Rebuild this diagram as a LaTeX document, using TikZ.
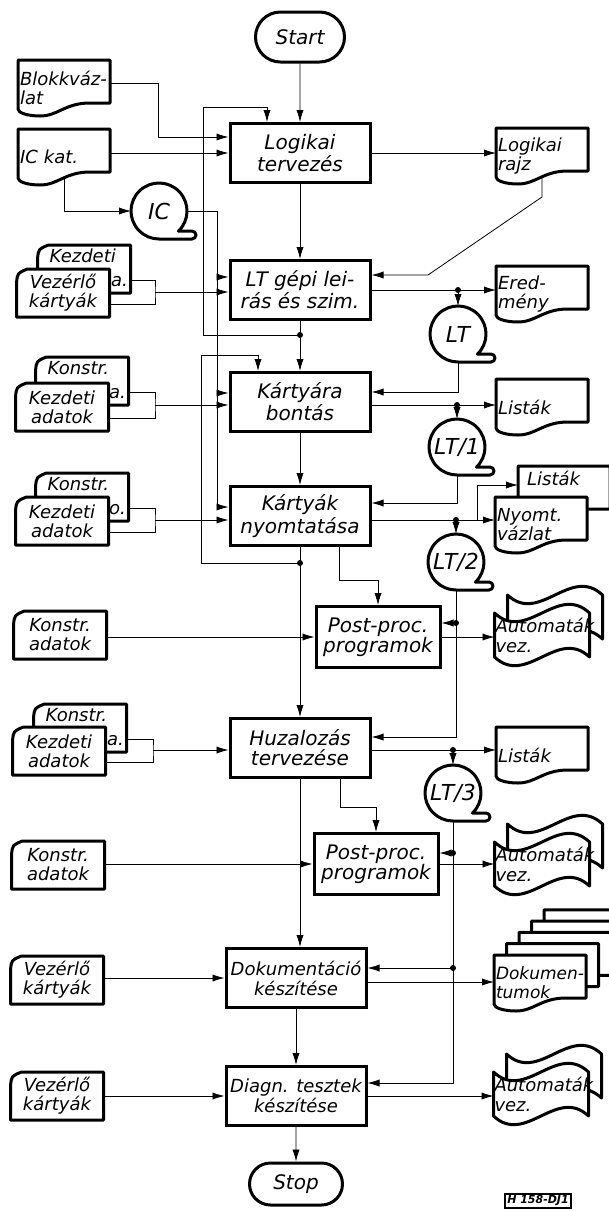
\documentclass[tikz,border=0pt]{standalone}
\usepackage{fontspec}
\setmainfont{DejaVu Sans}
\usetikzlibrary{arrows.meta, calc, shapes.misc}
\pgfdeclarelayer{wires}
\pgfdeclarelayer{outlines}
\pgfsetlayers{wires,outlines,main}

\begin{document}
\begin{tikzpicture}[x=0.5pt, y=-0.5pt, line width=1.1pt,
    font=\itshape\fontsize{10}{10}\selectfont,
    procbox/.style={draw, fill=white, line width=1.5pt, minimum width=70pt, minimum height=29.5pt, align=center, inner sep=1pt},
    postbox/.style={minimum width=62pt, minimum height=30.5pt},
    termbox/.style={rounded rectangle, draw, fill=white, line width=1.5pt, inner sep=1pt},
    docbox/.style={minimum width=46pt, minimum height=28pt, text width=44pt, align=left, inner sep=1pt, outer sep=0pt, font=\itshape\fontsize{9}{9.5}\selectfont},
    cardbox/.style={minimum width=46.5pt, minimum height=24pt, align=center, inner sep=1pt, outer sep=0pt, font=\itshape\fontsize{9}{9.5}\selectfont},
    cardtext/.style={inner sep=1pt, font=\itshape\fontsize{9}{9.5}\selectfont},
    flagbox/.style={minimum width=47.5pt, minimum height=22pt, text width=46.5pt, align=left, inner sep=0.5pt, outer sep=0pt, font=\itshape\fontsize{9}{10}\selectfont},
    tapenode/.style={circle, minimum size=28pt, inner sep=0pt, outer sep=0pt, font=\itshape\fontsize{11}{11}\selectfont},
    outl/.style={line width=1.5pt, fill=white, line join=round},
    arr/.style={-{Latex[length=6pt,width=3.6pt]}},
    jdot/.style={circle, fill, inner sep=0pt, minimum size=3pt}]

    \useasboundingbox (0,0) rectangle (609,1211);

    % Main column
    \node[termbox, minimum width=46.5pt, minimum height=25pt] (start) at (300,37) {Start};
    \node[procbox] (logik) at (300,153) {Logikai\\tervezés};
    \node[procbox] (ltgep) at (300,290) {LT gépi lei-\\rás és szim.};
    \node[procbox] (kbont) at (300,402) {Kártyára\\bontás};
    \node[procbox] (knyom) at (300,516) {Kártyák\\nyomtatása};
    \node[procbox, postbox] (post1) at (378,637) {Post-proc.\\programok};
    \node[procbox] (huzal) at (300,748) {Huzalozás\\tervezése};
    \node[procbox, postbox] (post2) at (376,864) {Post-proc.\\programok};
    \node[procbox, font=\itshape\fontsize{9}{10}\selectfont] (dokum) at (296,978) {Dokumentáció\\készítése};
    \node[procbox, font=\itshape\fontsize{9}{10}\selectfont] (diagn) at (296,1096) {Diagn. tesztek\\készítése};
    \node[termbox, minimum width=48.5pt, minimum height=21pt] (stop) at (296,1184) {Stop};

    % Tapes
    \node[tapenode] (ic) at (159,211) {IC};
    \node[tapenode] (lt) at (458,334) {LT};
    \node[tapenode] (ltone) at (457,447) {LT/1};
    \node[tapenode] (lttwo) at (456,562) {LT/2};
    \node[tapenode] (ltthree) at (453,793) {LT/3};

    % Documents
    \node[docbox] (blokk) at (64,88) {\mbox{Blokkváz-}\\lat};
    \node[docbox] (ickat) at (64,157) {IC kat.};
    \node[docbox] (lrajz) at (542,156) {Logikai\\rajz};
    \node[docbox] (ered) at (542,294) {\mbox{Ered-}\\mény};
    \node[docbox] (list1) at (542,407) {Listák};
    \node[docbox] (list2) at (564,494) {};
    \node[cardtext, anchor=north west] (list2t) at ($(list2.north west)+(6,2)$) {Listák};
    \node[docbox] (nyomt) at (541,525) {Nyomt.\\vázlat};
    \node[docbox] (list3) at (542,755) {Listák};
    \node[docbox, font=\itshape\fontsize{8.5}{9.5}\selectfont] (dstack) at (540,983) {\mbox{Dokumen-}\\tumok};

    % Punched cards
    \node[cardbox] (kb1) at (84,269) {};
    \node[cardbox] (kf1) at (63,293) {Vezérlő\\kártyák};
    \node[cardbox] (kb2) at (82,381) {};
    \node[cardbox] (kf2) at (62,407) {Kezdeti\\adatok};
    \node[cardbox] (kb3) at (82,497) {};
    \node[cardbox] (kf3) at (62,521) {Kezdeti\\adatok};
    \node[cardbox] (kb4) at (80,728) {};
    \node[cardbox] (kf4) at (59,751) {Kezdeti\\adatok};
    \foreach \b/\toptext/\sidetext in {kb1/Kezdeti/a., kb2/Konstr./a., kb3/Konstr./o., kb4/Konstr./a.} {
        \node[cardtext, anchor=north west] (\b-top) at ($(\b.north west)+(9,1)$) {\toptext};
        \node[cardtext, anchor=south east, inner sep=0.5pt] (\b-side) at ($(\b.south east)+(-0.5,-4)$) {\sidetext};
    }
    \node[cardbox] (ka1) at (60,635) {Konstr.\\adatok};
    \node[cardbox] (ka2) at (58,865) {Konstr.\\adatok};
    \node[cardbox] (kv1) at (57,980) {Vezérlő\\kártyák};
    \node[cardbox] (kv2) at (57,1096) {Vezérlő\\kártyák};

    % Paper tape outputs
    \node[flagbox] (aut1) at (542,635) {Automaták\\vez.};
    \node[flagbox] (aut2) at (542,864) {Automaták\\vez.};
    \node[flagbox] (aut3) at (541,1094) {Automaták\\vez.};

    \node[draw, line width=0.8pt, inner sep=1pt, font=\bfseries\itshape\fontsize{5.5}{6}\selectfont] (tag) at (538,1201) {H 158-DJ1};

    % Junction points
    \coordinate (fbone) at (300,335);
    \coordinate (fbtwo) at (300,563);
    \coordinate (icbus) at (217,507);
    \coordinate (ictapa) at (217,277);
    \coordinate (ictapb) at (217,393);
    \coordinate (brone) at (155,292);
    \coordinate (brtwo) at (155,405);
    \coordinate (brthree) at (155,520);
    \coordinate (brfour) at (153,750);
    \coordinate (kbout) at ([yshift=-1.5pt]kbont.east);
    \coordinate (knout) at ([yshift=-2pt]knyom.east);
    \coordinate (huout) at ([yshift=-1pt]huzal.east);
    \coordinate (doout) at ([yshift=-2pt]dokum.east);
    \coordinate (jlt) at (ltgep.east -| lt.north);
    \coordinate (jlone) at (kbout -| ltone.north);
    \coordinate (jltwo) at (knout -| lttwo.north);
    \coordinate (jlthree) at (huout -| ltthree.north);
    \coordinate (jls) at (477,520);
    \coordinate (tpone) at (lttwo.south |- 0,623);
    \coordinate (tptwo) at (ltthree.south |- 0,853);
    \coordinate (tpthree) at (ltthree.south |- 0,968);

    % Outlines of the symbols
    \begin{pgfonlayer}{outlines}
        \begin{scope}
            \clip (0,0) rectangle (609,1211);
            \foreach \d/\dx/\dy in {blokk/0/0, ickat/0/0, lrajz/0/0, ered/0/0, list1/0/0, list2/0/0, nyomt/0/0, list3/0/0,
                    dstack/50/-45.2, dstack/37.5/-33.9, dstack/25/-22.6, dstack/12.5/-11.3, dstack/0/0}
                \draw[outl] ($(\d.north west)+(\dx,\dy)$) -- ($(\d.north east)+(\dx,\dy)$) -- ($(\d.south east)+(\dx,\dy-13)$)
                    -- ($(\d.south east)+(\dx-20,\dy-13)$) .. controls ($(\d.south east)+(\dx-45,\dy-13)$) and ($(\d.south west)+(\dx+40,\dy)$) .. ($(\d.south west)+(\dx+22,\dy)$)
                    .. controls ($(\d.south west)+(\dx+10,\dy)$) and ($(\d.south west)+(\dx,\dy-3)$) .. ($(\d.south west)+(\dx,\dy-7)$) -- cycle;
        \end{scope}
        \foreach \c in {kb1,kf1,kb2,kf2,kb3,kf3,kb4,kf4,ka1,ka2,kv1,kv2}
            \draw[outl] ($(\c.north west)+(0,14)$) .. controls ($(\c.north west)+(1,4)$) .. ($(\c.north west)+(11,0)$)
                -- (\c.north east) -- (\c.south east) -- (\c.south west) -- cycle;
        \foreach \f/\dx/\dy in {aut1/13/-18, aut1/0/0, aut2/13/-18, aut2/0/0, aut3/13/-18, aut3/0/0}
            \draw[outl] ($(\f.north west)+(\dx,\dy)$) .. controls ($(\f.north west)+(\dx+32,\dy+30)$) and ($(\f.north east)+(\dx-32,\dy-30)$) .. ($(\f.north east)+(\dx,\dy)$)
                -- ($(\f.south east)+(\dx,\dy)$) .. controls ($(\f.south east)+(\dx-32,\dy-30)$) and ($(\f.south west)+(\dx+32,\dy+30)$) .. ($(\f.south west)+(\dx,\dy)$) -- cycle;
        \foreach \t in {ic,lt,ltone,lttwo,ltthree}
            \draw[outl] (\t.center) ++(46:28) arc[start angle=46, end angle=-270, radius=28] -- ++(33,0)
                arc[start angle=90, end angle=-90, radius=4] -- cycle;
    \end{pgfonlayer}

    % Connectors
    \begin{pgfonlayer}{wires}
        % main flow
        \draw[arr] (start) -- (logik);
        \draw[arr] (logik) -- (ltgep);
        \draw[arr] (ltgep) -- (kbont);
        \draw[arr] (kbont) -- (knyom);
        \draw[arr] (knyom) -- (huzal);
        \draw[arr] (huzal.south) -- (huzal.south |- dokum.north);
        \draw[arr] (dokum) -- (diagn);
        \draw[arr] (diagn) -- (stop);

        % left inputs
        \draw[arr] ([yshift=2.5pt]blokk.east) -| (158,137) -- (logik.west |- 0,137);
        \draw[arr] (ickat.east |- logik.west) -- (logik.west);
        \draw[arr] (ickat.center) |- (ic);
        \draw[arr] (ic) -| (icbus) -- (icbus -| knyom.west);
        \draw[arr] (ictapa) -- (ictapa -| ltgep.west);
        \draw[arr] (ictapb) -- (ictapb -| kbont.west);
        \draw[arr] (fbone) -| (203,107) -| ([xshift=-16.5pt]logik.north);
        \draw[arr] (fbtwo) -| (201,355) -| ([xshift=-21pt]kbont.north);

        \draw ([yshift=-5.5pt]kb1.east) -| (brone) |- ([yshift=-5.5pt]kf1.east);
        \draw[arr] (brone) -- (brone -| ltgep.west);
        \draw ([yshift=-5.5pt]kb2.east) -| (brtwo) |- ([yshift=-5.5pt]kf2.east);
        \draw[arr] (brtwo) -- (brtwo -| kbont.west);
        \draw ([yshift=-5.5pt]kb3.east) -| (brthree) |- ([yshift=-5.5pt]kf3.east);
        \draw[arr] (brthree) -- (brthree -| knyom.west);
        \draw ([yshift=-5.5pt]kb4.east) -| (brfour) |- ([yshift=-5.5pt]kf4.east);
        \draw[arr] (brfour) -- (brfour -| huzal.west);

        \draw[arr] (ka1.east |- post1.west) -- (post1.west);
        \draw[arr] (ka2.east |- post2.west) -- (post2.west);
        \draw[arr] (kv1.east |- dokum.west) -- (dokum.west);
        \draw[arr] (kv2.east |- diagn.west) -- (diagn.west);

        % right side
        \draw[arr] (logik.east) -- (logik.east -| lrajz.west);
        \draw[arr] (lrajz.center) -- ++(0,41) -- (428,275) -- (ltgep.east |- 0,275);
        \draw[arr] (ltgep.east) -- (ltgep.east -| ered.west);
        \draw[arr] (jlt) -- (lt);
        \draw[arr] (lt) |- ([yshift=5pt]kbont.east);
        \draw[arr] (kbout) -- (kbout -| list1.west);
        \draw[arr] (jlone) -- (ltone);
        \draw[arr] (ltone) |- ([yshift=6.5pt]knyom.east);
        \draw[arr] (knout) -- (knout -| nyomt.west);
        \draw[arr] (jls) |- (list2.west |- 0,485);
        \draw[arr] (jltwo) -- (lttwo);
        \draw[arr] ([xshift=19.5pt]knyom.south) -- ++(0,33) -| (post1);
        \draw[arr] (lttwo) |- ([yshift=5.5pt]huzal.east);
        \draw[arr] (tpone) -- (tpone -| post1.east);
        \draw[arr] (post1.east) -- (post1.east -| aut1.west);
        \draw[arr] (huout) -- (huout -| list3.west);
        \draw[arr] (jlthree) -- (ltthree);
        \draw[arr] ([xshift=20pt]huzal.south) -- ++(0,28) -| (post2);
        \draw[arr] (ltthree) |- ([yshift=6.5pt]diagn.east);
        \draw[arr] (tptwo) -- (tptwo -| post2.east);
        \draw[arr] (tpthree) -- (tpthree -| dokum.east);
        \draw[arr] (post2.east) -- (post2.east -| aut2.west);
        \draw[arr] (doout) -- (doout -| dstack.west);
        \draw[arr] (diagn.east) -- (diagn.east -| aut3.west);
    \end{pgfonlayer}

    \foreach \j in {fbone,fbtwo,jlt,jlone,jltwo,jlthree,tpone,tptwo,tpthree}
        \node[jdot] (dot-\j) at (\j) {};

\end{tikzpicture}
\end{document}
